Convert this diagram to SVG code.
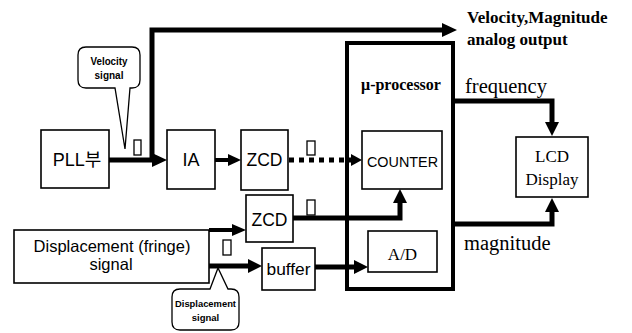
<svg xmlns="http://www.w3.org/2000/svg" width="632" height="333" viewBox="0 0 632 333">
<defs>
<style>
.box{fill:#fff;stroke:#000;stroke-width:1.6}
.thick{fill:none;stroke:#000;stroke-width:5}
.med{fill:none;stroke:#000;stroke-width:4}
.pulse{fill:#fff;stroke:#000;stroke-width:1.3}
.sans{font-family:"Liberation Sans",Arial,"Noto Sans CJK KR",sans-serif;fill:#000}
.serif{font-family:"Liberation Serif","Times New Roman",serif;fill:#000}
.call{fill:#fff;stroke:#000;stroke-width:1.3}
</style>
</defs>
<rect width="632" height="333" fill="#fff"/>

<g id="connectors">
<path class="thick" d="M109,160 H153" />
<polygon points="152,153 167,160 152,167" fill="#000"/>
<path class="thick" d="M152,160 V30 H444" />
<polygon points="442,23 457,30 442,37" fill="#000"/>
<path class="med" d="M215,160 H229" />
<polygon points="228,154 241,160 228,166" fill="#000"/>
<path d="M289,160 H352" fill="none" stroke="#000" stroke-width="5" stroke-dasharray="5,5"/>
<polygon points="351,154 362,160 351,166" fill="#000"/>
<path class="thick" d="M293,218 H400 V202" />
<polygon points="393,203 400,189 407,203" fill="#000"/>
<path class="med" d="M209,230 H234" />
<polygon points="232,224 246,230 232,236" fill="#000"/>
<path class="thick" d="M209,266 H250" />
<polygon points="248,259 262,266 248,273" fill="#000"/>
<path class="thick" d="M315,267 H356" />
<polygon points="354,260 368,267 354,274" fill="#000"/>
<path class="thick" d="M453,101 H552 V124" />
<polygon points="545,122 552,136 559,122" fill="#000"/>
<path class="thick" d="M453,224 H552 V210" />
<polygon points="545,212 552,198 559,212" fill="#000"/>
</g>

<g id="velocity-callout">
<path class="call" d="M86,47 H132 Q140,47 140,55 V80 Q140,88 132,88 H130 L125,149 L115,88 H86 Q78,88 78,80 V55 Q78,47 86,47 Z"/>
<text class="sans" x="109" y="65" font-size="10" font-weight="bold" text-anchor="middle" textLength="37" lengthAdjust="spacingAndGlyphs">Velocity</text>
<text class="sans" x="109" y="79" font-size="10" font-weight="bold" text-anchor="middle">signal</text>
</g>

<g id="pulses">
<rect class="pulse" x="134" y="140" width="7" height="15"/>
<rect class="pulse" x="307" y="141" width="8" height="14"/>
<rect class="pulse" x="307" y="200" width="8" height="15"/>
<rect class="pulse" x="223" y="240" width="8" height="15"/>
</g>

<g id="pll">
<rect class="box" x="41" y="130" width="68" height="58"/>
<text class="sans" x="77" y="166" font-size="18" text-anchor="middle">PLL부</text>
</g>

<g id="ia">
<rect class="box" x="167" y="130" width="48" height="59"/>
<text class="sans" x="191" y="166" font-size="18" text-anchor="middle">IA</text>
</g>

<g id="zcd1">
<rect class="box" x="241" y="130" width="47" height="60"/>
<text class="sans" x="264.5" y="166" font-size="18" text-anchor="middle" textLength="36" lengthAdjust="spacingAndGlyphs">ZCD</text>
</g>

<g id="zcd2">
<rect class="box" x="246" y="195" width="47" height="47"/>
<text class="sans" x="269.5" y="226" font-size="18" text-anchor="middle" textLength="36" lengthAdjust="spacingAndGlyphs">ZCD</text>
</g>

<g id="buffer">
<rect class="box" x="262" y="248" width="53" height="42"/>
<text class="sans" x="288.5" y="275" font-size="17" text-anchor="middle" textLength="44" lengthAdjust="spacingAndGlyphs">buffer</text>
</g>

<g id="displacement">
<rect class="box" x="14" y="230" width="195" height="53"/>
<text class="sans" x="112" y="252" font-size="16.5" text-anchor="middle">Displacement (fringe)</text>
<text class="sans" x="111" y="270" font-size="16.5" text-anchor="middle">signal</text>
</g>

<g id="displacement-callout">
<path class="call" d="M180,289 H210 L218,268 L228,289 H231 Q239,289 239,297 V322 Q239,330 231,330 H180 Q172,330 172,322 V297 Q172,289 180,289 Z"/>
<text class="sans" x="205.5" y="307" font-size="9.5" font-weight="bold" text-anchor="middle" textLength="61" lengthAdjust="spacingAndGlyphs">Displacement</text>
<text class="sans" x="205.5" y="321" font-size="9.5" font-weight="bold" text-anchor="middle">signal</text>
</g>

<g id="processor">
<rect x="347" y="43" width="106" height="246" fill="none" stroke="#000" stroke-width="4"/>
<text class="serif" x="401" y="90" font-size="16" font-weight="bold" text-anchor="middle">μ-processor</text>
</g>

<g id="counter">
<rect class="box" x="362" y="131" width="80" height="58"/>
<text class="sans" x="402.5" y="167" font-size="15.5" text-anchor="middle" textLength="71" lengthAdjust="spacingAndGlyphs">COUNTER</text>
</g>

<g id="ad">
<rect class="box" x="368" y="231" width="69" height="41"/>
<text class="serif" x="402.5" y="260" font-size="17" text-anchor="middle">A/D</text>
</g>

<g id="lcd">
<rect class="box" x="516" y="137" width="72" height="60"/>
<text class="serif" x="552" y="162" font-size="17" text-anchor="middle">LCD</text>
<text class="serif" x="552" y="185" font-size="17" text-anchor="middle">Display</text>
</g>

<g id="labels">
<text class="serif" x="467" y="23" font-size="17" font-weight="bold">Velocity,Magnitude</text>
<text class="serif" x="467" y="45" font-size="17" font-weight="bold">analog output</text>
<text class="serif" x="465" y="93" font-size="20.5">frequency</text>
<text class="serif" x="464" y="250" font-size="20.5">magnitude</text>
</g>
</svg>
